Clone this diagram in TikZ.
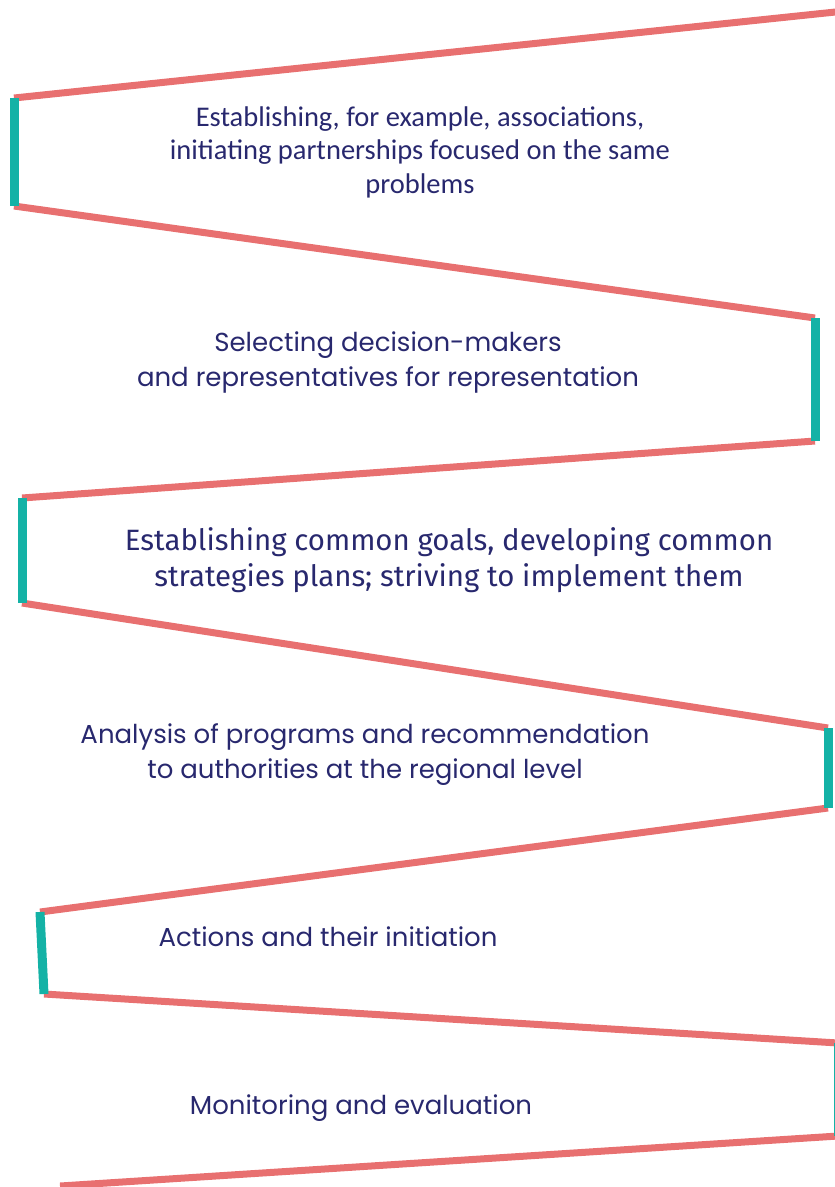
\documentclass[tikz,border=0pt]{standalone}
\usepackage{fontspec}
\setmainfont{Poppins}
\newfontfamily\calibrifont{Carlito}
\newfontfamily\plexfont{Fira Sans}
\definecolor{zigpink}{RGB}{232,112,112}
\definecolor{zigteal}{RGB}{20,178,166}
\definecolor{zigtext}{RGB}{40,40,110}

\begin{document}
\begin{tikzpicture}[x=1pt,y=-1pt,
  pinkline/.style={draw=zigpink,line width=7pt},
  tealbar/.style={draw=zigteal,line width=9pt},
  steptext/.style={text=zigtext,align=center,font=\fontsize{26}{35}\selectfont}]
\useasboundingbox (0,0) rectangle (835,1187);
%corners of the zigzag
\coordinate (p0) at (845,11);
\coordinate (p1) at (14,98);
\coordinate (p2) at (14,206);
\coordinate (p3) at (815,318);
\coordinate (p4) at (815,441);
\coordinate (p5) at (22,498);
\coordinate (p6) at (22,603);
\coordinate (p7) at (828,728);
\coordinate (p8) at (828,808);
\coordinate (p9) at (40,912);
\coordinate (p10) at (44,994);
\coordinate (p11) at (838,1043);
\coordinate (p12) at (838,1136);
\coordinate (p13) at (60,1186);
%slanted lines
\foreach \a/\b in {p0/p1,p2/p3,p4/p5,p6/p7,p8/p9,p10/p11,p12/p13}
  \draw[pinkline] (\a) -- (\b);
%vertical bars
\foreach \a/\b in {p1/p2,p3/p4,p5/p6,p7/p8,p9/p10,p11/p12}
  \draw[tealbar] (\a) -- (\b);
%labels
\node[steptext,font=\calibrifont\fontsize{28.5}{33.5}\selectfont] (t1) at (420,152)
  {Establishing, for example, associations,\\initiating partnerships focused on the same\\problems};
\node[steptext] (t2) at (388,362)
  {Selecting decision-makers\\and representatives for representation};
\node[steptext,font=\plexfont\fontsize{29.4}{36}\selectfont] (t3) at (449,560)
  {Establishing common goals, developing common\\strategies plans; striving to implement them};
\node[steptext] (t4) at (365,755)
  {Analysis of programs and recommendation\\to authorities at the regional level};
\node[steptext] (t5) at (328,937) {Actions and their initiation};
\node[steptext] (t6) at (361,1108) {Monitoring and evaluation};
\end{tikzpicture}
\end{document}
